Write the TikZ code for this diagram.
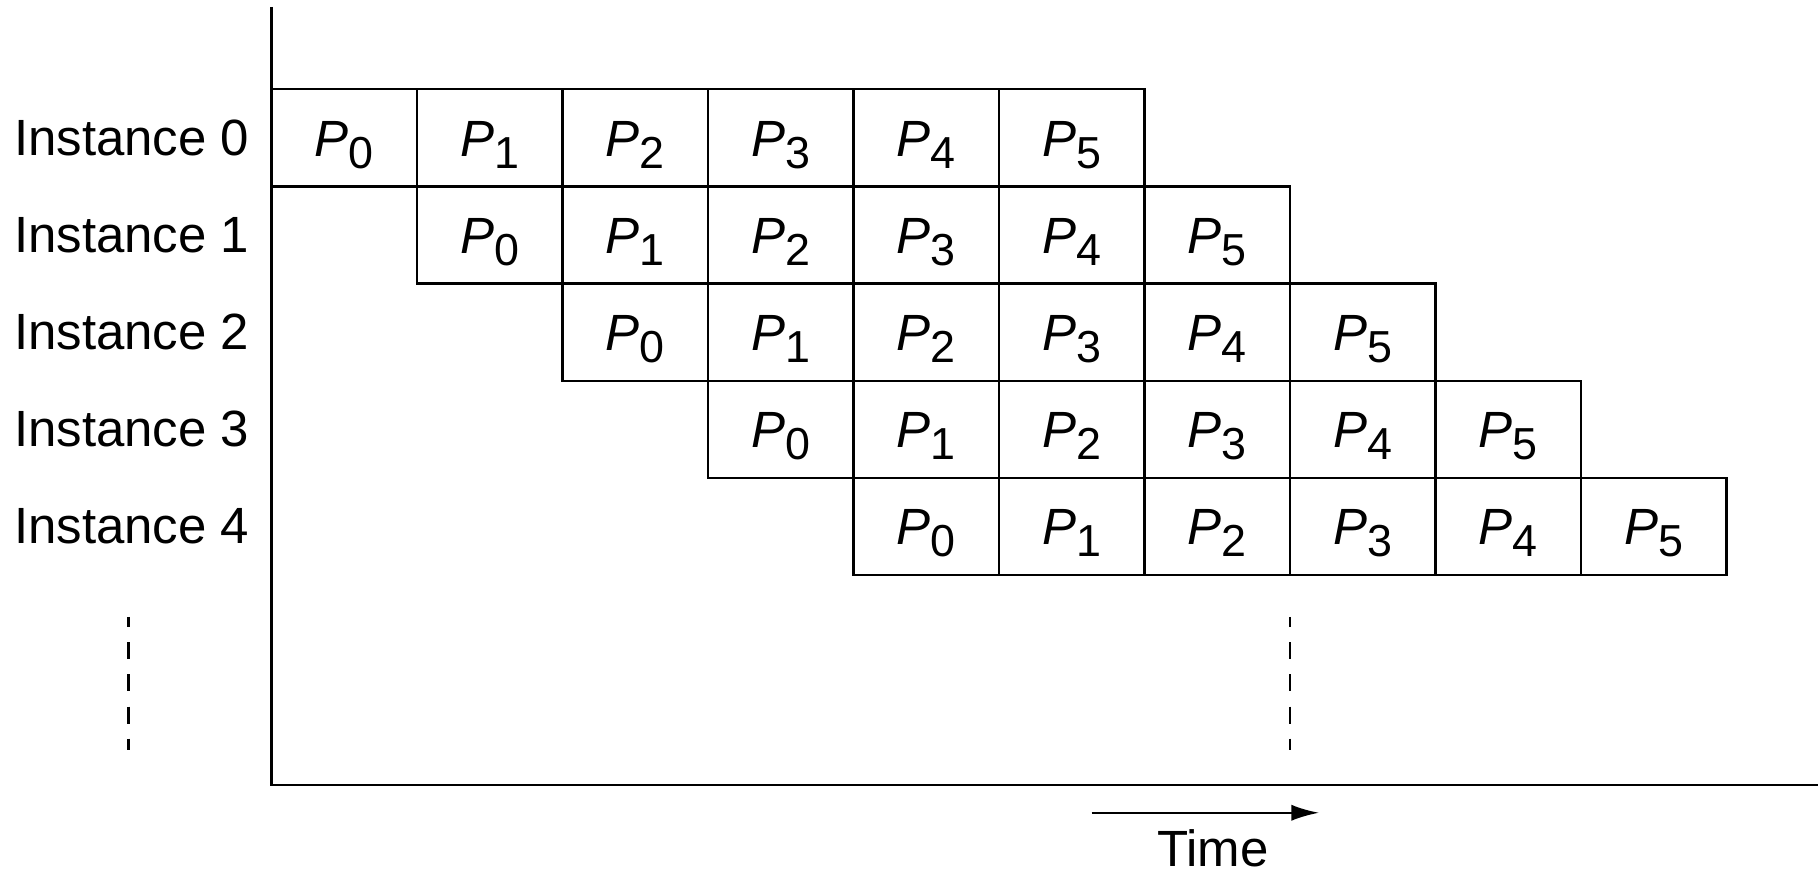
\documentclass[tikz,border=0pt]{standalone}
\usepackage{fontspec}
\setmainfont{Liberation Sans}
\usetikzlibrary{arrows.meta}
\newcommand{\Psub}[1]{\textit{P}\raisebox{-2.9pt}{\fontsize{11}{13}\selectfont #1}}
\begin{document}
\begin{tikzpicture}[x=0.01cm,y=-0.01cm,
  line width=0.6pt,
  cell/.style={draw, rectangle, minimum width=1.255cm, minimum height=0.838cm,
    inner sep=0pt, text height=12pt, text depth=3pt,
    font=\fontsize{12.5}{15}\selectfont},
  inst/.style={anchor=base east, inner sep=0pt, font=\fontsize{12.5}{15}\selectfont},
  timelabel/.style={anchor=base, inner sep=0pt, font=\fontsize{12.5}{15}\selectfont},
  axisline/.style={line width=0.6pt},
  dashline/.style={line width=0.6pt, dash pattern=on 4.2pt off 3.7pt, dash phase=1.7pt},
  timearrow/.style={line width=0.6pt, -{Latex[length=0.24cm,width=0.14cm]}},
]
\useasboundingbox (0,0) rectangle (1568,751);
% axes
\coordinate (ytop) at (234,6);
\coordinate (origin) at (234,677);
\coordinate (xend) at (1568,677);
\draw[axisline] (ytop) -- (origin) -- (xend);
% cells
\foreach \i in {0,...,4}{
  \node[inst] (inst\i) at (216,{118.9+83.8*\i+15}) {Instance \i};
  \foreach \j in {0,...,5}{
    \pgfmathsetmacro{\cx}{234+125.5*(\i+\j+0.5)}
    \pgfmathsetmacro{\cy}{77+83.8*(\i+0.5)}
    \node[cell] (c\i\j) at (\cx,\cy) {\Psub{\j}};
  }
}
% dashed continuation marks
\coordinate (la) at (111,532);
\coordinate (lb) at (111,647);
\coordinate (ra) at (1112.5,532);
\coordinate (rb) at (1112.5,647);
\draw[dashline] (la) -- (lb);
\draw[dashline] (ra) -- (rb);
% time arrow
\coordinate (ta) at (941.6,701);
\coordinate (tb) at (1137.7,701);
\draw[timearrow] (ta) -- (tb);
\node[timelabel] (time) at (1046,747) {Time};
\end{tikzpicture}
\end{document}
